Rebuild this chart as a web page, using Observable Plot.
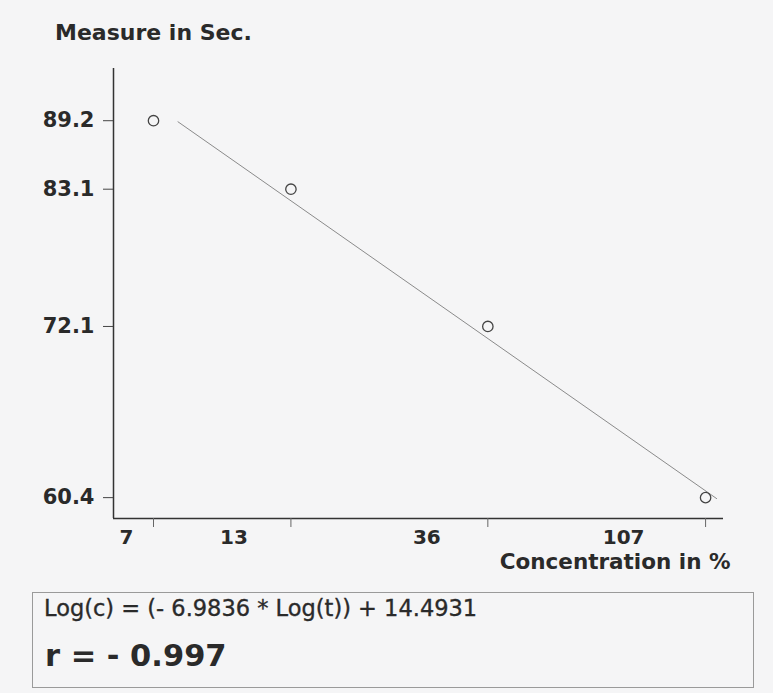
<!DOCTYPE html>
<html><head><meta charset="utf-8">
<script src="https://cdn.jsdelivr.net/npm/d3@7"></script>
<script src="https://cdn.jsdelivr.net/npm/@observablehq/plot@0.6"></script>
<style>
html,body{margin:0;padding:0;background:#f5f5f6;}
#wrap{position:relative;width:773px;height:693px;overflow:hidden;font-family:"DejaVu Sans",sans-serif;color:#2a2a2a;}
#title{position:absolute;left:55px;top:20px;font-size:22px;font-weight:bold;line-height:26px;white-space:nowrap;}
#chart{position:absolute;left:0;top:0;}
#box{position:absolute;left:32px;top:592px;width:722px;height:96px;border:1px solid #9a9a9a;box-sizing:border-box;}
#eq{position:absolute;left:11px;top:2px;font-size:22.5px;line-height:26px;white-space:nowrap;-webkit-text-stroke:0.35px #2a2a2a;}
#r{position:absolute;left:12px;top:45px;font-size:30.5px;font-weight:bold;line-height:36px;white-space:nowrap;}
</style></head><body>
<div id="wrap">
  <div id="chart"></div>
  <div id="title"></div>
  <div id="box"><div id="eq"></div><div id="r"></div></div>
</div>
<script>
// Data
const concentration = [7, 13.8, 36.5, 107];          // x positions of the points (%)
const measureSec = [89.2, 83.1, 72.1, 60.4];         // measured time (s)
const xTickLabels = ["7", "13", "36", "107"];
const yTickLabels = ["89.2", "83.1", "72.1", "60.4"];
const fitConcentration = [7.9, 113.0];                // regression line end points
const fitMeasure = [89.1, 60.34];
const titleText = "Measure in Sec.";
const xLabel = "Concentration in %";
const equationText = "Log(c) = (- 6.9836 * Log(t)) + 14.4931";
const rText = "r = - 0.997";

// Layout config
const xDomain = [5.745, 116.9];
const yDomain = [59.11, 94.15];
const xLabelDx = [-27, -57, -61, -82];

document.getElementById("title").textContent = titleText;
document.getElementById("eq").textContent = equationText;
document.getElementById("r").textContent = rText;

const points = concentration.map((c, i) => ({c, t: measureSec[i]}));
const fit = fitConcentration.map((c, i) => ({c, t: fitMeasure[i]}));

const ink = "#2a2a2a";
const chart = Plot.plot({
  width: 773,
  height: 580,
  marginLeft: 113,
  marginRight: 50,
  marginTop: 68,
  marginBottom: 62,
  style: {background: "transparent", fontFamily: "DejaVu Sans, sans-serif", fontSize: "21px", fontWeight: "bold", color: ink},
  x: {type: "log", domain: xDomain},
  y: {type: "log", domain: yDomain},
  marks: [
    Plot.ruleX([xDomain[0]], {stroke: "#333", strokeWidth: 1.5}),
    Plot.ruleY([yDomain[0]], {stroke: "#333", strokeWidth: 1.5}),
    Plot.axisY(measureSec, {tickSize: 10, tickPadding: 9, label: null,
      tickFormat: d => yTickLabels[measureSec.indexOf(d)], fontSize: 21, fontWeight: "bold", stroke: "#444"}),
    Plot.axisX(concentration, {tickSize: 9, label: null, tickFormat: () => "", stroke: "#666"}),
    ...concentration.map((c, i) => Plot.text([c], {
      x: d => d, frameAnchor: "bottom", dy: 25, dx: xLabelDx[i],
      text: () => xTickLabels[i], fontSize: 20, fontWeight: "bold", fill: ink
    })),
    Plot.text([xLabel], {frameAnchor: "bottom-right", text: d => d, textAnchor: "end",
      dx: 7, dy: 50, fontSize: 21.5, fontWeight: "bold", fill: ink}),
    Plot.line(fit, {x: "c", y: "t", stroke: "#8a8a8a", strokeWidth: 1}),
    Plot.dot(points, {x: "c", y: "t", r: 5.2, stroke: "#444", strokeWidth: 1.3, fill: "none"})
  ]
});
document.getElementById("chart").appendChild(chart);
</script>
</body></html>
